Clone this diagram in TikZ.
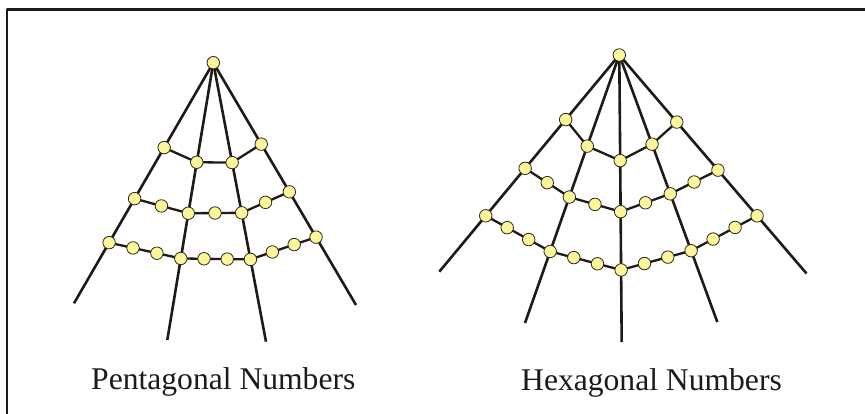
\documentclass[tikz,border=0pt]{standalone}
\usepackage{fontspec}
\setmainfont{Liberation Serif}
\usetikzlibrary{calc,backgrounds}
\definecolor{Ink}{HTML}{1E1A17}
\definecolor{DotFill}{HTML}{FCF59A}
\definecolor{DotEdge}{HTML}{2A2520}
\tikzset{
  dot/.style={circle,fill=DotFill,draw=DotEdge,line width=0.8pt,
              minimum size=12.5pt,inner sep=0pt},
  ray/.style={draw=Ink,line width=2.6pt},
  rung/.style={draw=Ink,line width=2.3pt},
  caption/.style={font=\fontsize{31.6}{36}\selectfont,text=Ink,
                  anchor=base west,inner sep=0pt}
}

\begin{document}
\begin{tikzpicture}[x=1pt,y=-1pt,line join=round]
  \useasboundingbox (0,0) rectangle (865,414);
  \draw[Ink,line width=2.6pt] (7,430) -- (7,9.5) -- (880,9.5);

  % pentagonal
  \node[dot] (pa) at (213.3,62.7) {};
  \coordinate (pe1) at (74,303.3);
  \coordinate (pe2) at (167.3,340);
  \coordinate (pe3) at (266,341.7);
  \coordinate (pe4) at (356,305);
  \foreach \k/\fa/\fb/\fc in {1/0.353/0.565/0.748,2/0.359/0.543/0.706,
                              3/0.358/0.538/0.705,4/0.336/0.533/0.720}{
    \node[dot] (p1-\k) at ($(pa)!\fa!(pe\k)$) {};
    \node[dot] (p2-\k) at ($(pa)!\fb!(pe\k)$) {};
    \node[dot] (p3-\k) at ($(pa)!\fc!(pe\k)$) {};
  }
  \foreach \k [evaluate=\k as \n using int(\k+1)] in {1,2,3}{
    \node[dot] (p2-\k-1) at ($(p2-\k)!0.5!(p2-\n)$) {};
    \node[dot] (p3-\k-1) at ($(p3-\k)!1/3!(p3-\n)$) {};
    \node[dot] (p3-\k-2) at ($(p3-\k)!2/3!(p3-\n)$) {};
  }
  \begin{scope}[on background layer]
    \foreach \k in {1,...,4}
      \draw[ray] (pa.center) -- (pe\k);
    \foreach \k [evaluate=\k as \n using int(\k+1)] in {1,2,3}{
      \draw[rung] (p1-\k.center) -- (p1-\n.center);
      \draw[rung] (p2-\k.center) -- (p2-\n.center);
      \draw[rung] (p3-\k.center) -- (p3-\n.center);
    }
  \end{scope}
  \node[caption] (ptitle) at (91,389.3) {Pentagonal Numbers};

  % hexagonal
  \node[dot] (ha) at (619.3,55) {};
  \coordinate (he1) at (439.3,271.7);
  \coordinate (he2) at (525,323);
  \coordinate (he3) at (621.7,342);
  \coordinate (he4) at (717.3,322);
  \coordinate (he5) at (806.5,273.5);
  \foreach \k/\fa/\fb/\fc in {1/0.298/0.523/0.742,2/0.340/0.530/0.733,
                              3/0.368/0.546/0.749,4/0.334/0.520/0.733,
                              5/0.307/0.527/0.736}{
    \node[dot] (h1-\k) at ($(ha)!\fa!(he\k)$) {};
    \node[dot] (h2-\k) at ($(ha)!\fb!(he\k)$) {};
    \node[dot] (h3-\k) at ($(ha)!\fc!(he\k)$) {};
  }
  \foreach \k [evaluate=\k as \n using int(\k+1)] in {1,...,4}{
    \node[dot] (h2-\k-1) at ($(h2-\k)!0.5!(h2-\n)$) {};
    \node[dot] (h3-\k-1) at ($(h3-\k)!1/3!(h3-\n)$) {};
    \node[dot] (h3-\k-2) at ($(h3-\k)!2/3!(h3-\n)$) {};
  }
  \begin{scope}[on background layer]
    \foreach \k in {1,...,5}
      \draw[ray] (ha.center) -- (he\k);
    \foreach \k [evaluate=\k as \n using int(\k+1)] in {1,...,4}{
      \draw[rung] (h1-\k.center) -- (h1-\n.center);
      \draw[rung] (h2-\k.center) -- (h2-\n.center);
      \draw[rung] (h3-\k.center) -- (h3-\n.center);
    }
  \end{scope}
  \node[caption] (htitle) at (521,390) {Hexagonal Numbers};
\end{tikzpicture}
\end{document}
